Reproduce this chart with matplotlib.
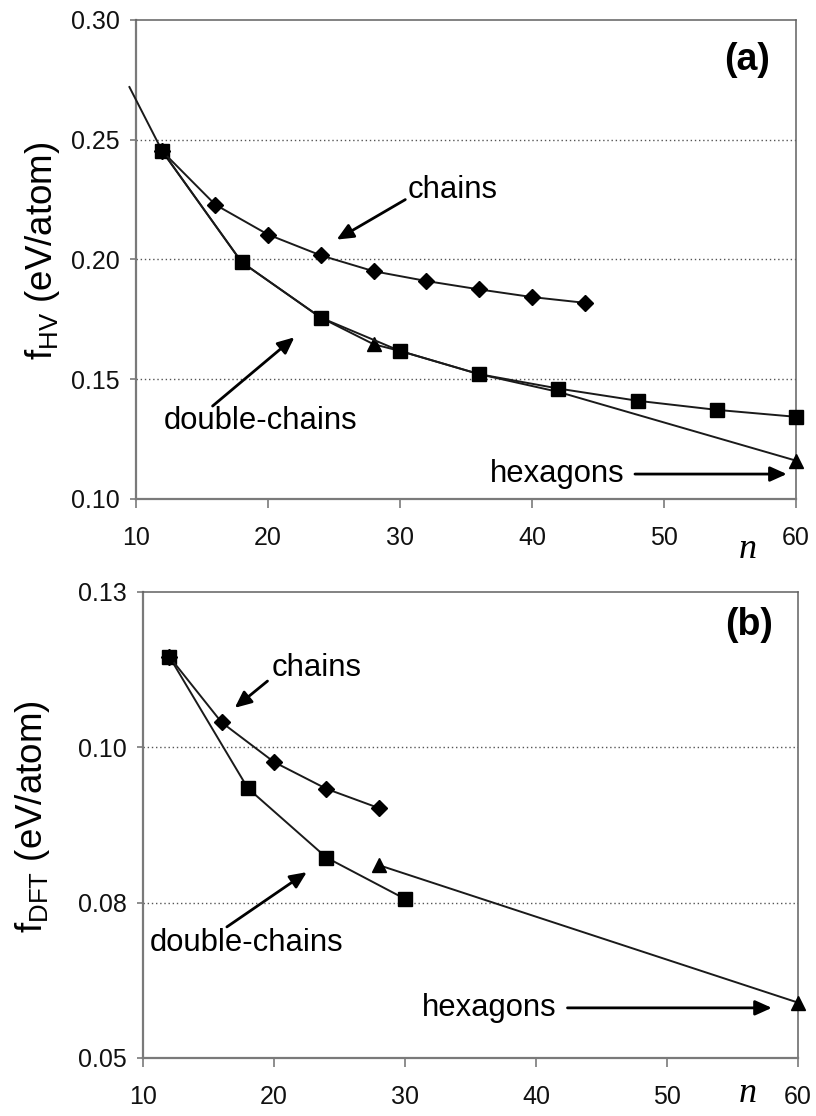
"""
Formation energy per atom vs cluster size n: HV model (a) and DFT (b)
"""

import numpy as np
import matplotlib.pyplot as plt

plt.rcParams["font.family"] = ["Liberation Sans", "DejaVu Sans"]
plt.rcParams["mathtext.fontset"] = "custom"
plt.rcParams["mathtext.rm"] = "Liberation Sans"
plt.rcParams["mathtext.default"] = "regular"

# ---- panel (a): f_HV ----
n_chain_a = [12, 16, 20, 24, 28, 32, 36, 40, 44]
f_chain_a = [0.2451, 0.2229, 0.2104, 0.2017, 0.1951, 0.1910, 0.1875, 0.1843, 0.1819]

n_dbl_a = [12, 18, 24, 30, 36, 42, 48, 54, 60]
f_dbl_a = [0.2451, 0.1989, 0.1757, 0.1618, 0.1521, 0.1461, 0.1410, 0.1372, 0.1343]

n_hex_a = [9.5, 12, 18, 24, 28, 30, 36, 42, 60]
f_hex_a = [0.2720, 0.2451, 0.1989, 0.1757, 0.1646, 0.1618, 0.1521, 0.1447, 0.1160]
hex_marked_a = [4, 8]

# ---- panel (b): f_DFT ----
n_chain_b = [12, 16, 20, 24, 28]
f_chain_b = [0.1189, 0.1076, 0.1008, 0.0962, 0.0929]

n_dbl_b = [12, 18, 24, 30]
f_dbl_b = [0.1189, 0.0963, 0.0844, 0.0773]

n_hex_b = [28, 60]
f_hex_b = [0.0831, 0.0595]

x_ticks = [10, 20, 30, 40, 50, 60]
y_ticks_a = [0.10, 0.15, 0.20, 0.25, 0.30]
y_labels_a = ["0.10", "0.15", "0.20", "0.25", "0.30"]
y_ticks_b = list(np.linspace(0.05, 0.13, 4))
y_labels_b = ["0.05", "0.08", "0.10", "0.13"]

LINE = "#1a1a1a"
AXC = "#7a7a7a"
TXT = 22.3
TICK = 18


def style_axes(ax, yticks, ylabels, ylim):
    ax.set_xlim(10, 60)
    ax.set_ylim(*ylim)
    ax.set_xticks(x_ticks)
    ax.set_xticklabels([str(t) for t in x_ticks])
    ax.set_yticks(yticks)
    ax.set_yticklabels(ylabels)
    for t in yticks[1:-1]:
        ax.axhline(t, color="#555555", lw=1.0, ls=(0, (1, 2)), zorder=0)
    for side in ["left", "bottom"]:
        ax.spines[side].set_color(AXC)
        ax.spines[side].set_linewidth(1.6)
    for side in ["top", "right"]:
        ax.spines[side].set_color("#606060")
        ax.spines[side].set_linewidth(1.1)
    ax.tick_params(axis="y", direction="out", length=4.5, width=1.2, color=AXC,
                   labelsize=TICK, pad=7, labelcolor="#111111")
    ax.tick_params(axis="x", direction="out", length=6.5, width=1.2, color=AXC,
                   labelsize=TICK, pad=13, labelcolor="#111111")


def arrow(ax, tail, head):
    ax.annotate("", xy=head, xytext=tail,
                arrowprops=dict(arrowstyle="-|>,head_length=1.0,head_width=0.45",
                                color="black", lw=2.0, shrinkA=0, shrinkB=0))


fig = plt.figure(figsize=(8.16, 11.16), dpi=100)
ax1 = fig.add_axes([0.1667, 0.5529, 0.8088, 0.4292])
ax2 = fig.add_axes([0.1753, 0.0520, 0.8027, 0.4176])

# panel (a)
ax1.plot(n_hex_a, f_hex_a, color=LINE, lw=1.4, marker="^", ms=10,
         markevery=hex_marked_a, mfc="black", mec="black", clip_on=False, zorder=3)
ax1.plot(n_dbl_a, f_dbl_a, color=LINE, lw=1.4, marker="s", ms=9.5,
         mfc="black", mec="black", clip_on=False, zorder=4)
ax1.plot(n_chain_a, f_chain_a, color=LINE, lw=1.4, marker="D", ms=8.3,
         mfc="black", mec="black", zorder=4)
style_axes(ax1, y_ticks_a, y_labels_a, (0.10, 0.30))

ax1.text(30.6, 0.2288, "chains", fontsize=TXT, ha="left", va="center")
arrow(ax1, (30.4, 0.225), (25.2, 0.2083))
ax1.text(19.4, 0.1325, "double-chains", fontsize=TXT, ha="center", va="center")
arrow(ax1, (15.8, 0.1388), (22.0, 0.1675))
ax1.text(36.8, 0.1104, "hexagons", fontsize=TXT, ha="left", va="center")
arrow(ax1, (47.8, 0.1104), (59.3, 0.1104))
ax1.text(0.961, 0.9165, "(a)", transform=ax1.transAxes, fontsize=27,
         fontweight="bold", ha="right", va="center")

# panel (b)
ax2.plot(n_hex_b, f_hex_b, color=LINE, lw=1.4, marker="^", ms=10,
         mfc="black", mec="black", clip_on=False, zorder=3)
ax2.plot(n_dbl_b, f_dbl_b, color=LINE, lw=1.4, marker="s", ms=9.5,
         mfc="black", mec="black", zorder=4)
ax2.plot(n_chain_b, f_chain_b, color=LINE, lw=1.4, marker="D", ms=8.3,
         mfc="black", mec="black", zorder=4)
style_axes(ax2, y_ticks_b, y_labels_b, (0.05, 0.13))

ax2.text(19.85, 0.1170, "chains", fontsize=TXT, ha="left", va="center")
arrow(ax2, (19.5, 0.1147), (17.0, 0.1101))
ax2.text(17.9, 0.0697, "double-chains", fontsize=TXT, ha="center", va="center")
arrow(ax2, (16.4, 0.0725), (22.5, 0.0819))
ax2.text(31.3, 0.0586, "hexagons", fontsize=TXT, ha="left", va="center")
arrow(ax2, (42.4, 0.0586), (58.0, 0.0586))
ax2.text(0.961, 0.929, "(b)", transform=ax2.transAxes, fontsize=27,
         fontweight="bold", ha="right", va="center")

# axis labels
fig.text(43 / 816, 1 - 251 / 1116, r"f$_{HV}$ (eV/atom)", rotation=90,
         fontsize=26.5, ha="center", va="center")
fig.text(33 / 816, 1 - 817 / 1116, r"f$_{DFT}$ (eV/atom)", rotation=90,
         fontsize=26.5, ha="center", va="center")
for ypix in [550, 1094]:
    fig.text(748 / 816, 1 - ypix / 1116, "n", family="Liberation Serif",
             style="italic", fontsize=26, ha="center", va="center")

fig.savefig("out.png", dpi=100)
